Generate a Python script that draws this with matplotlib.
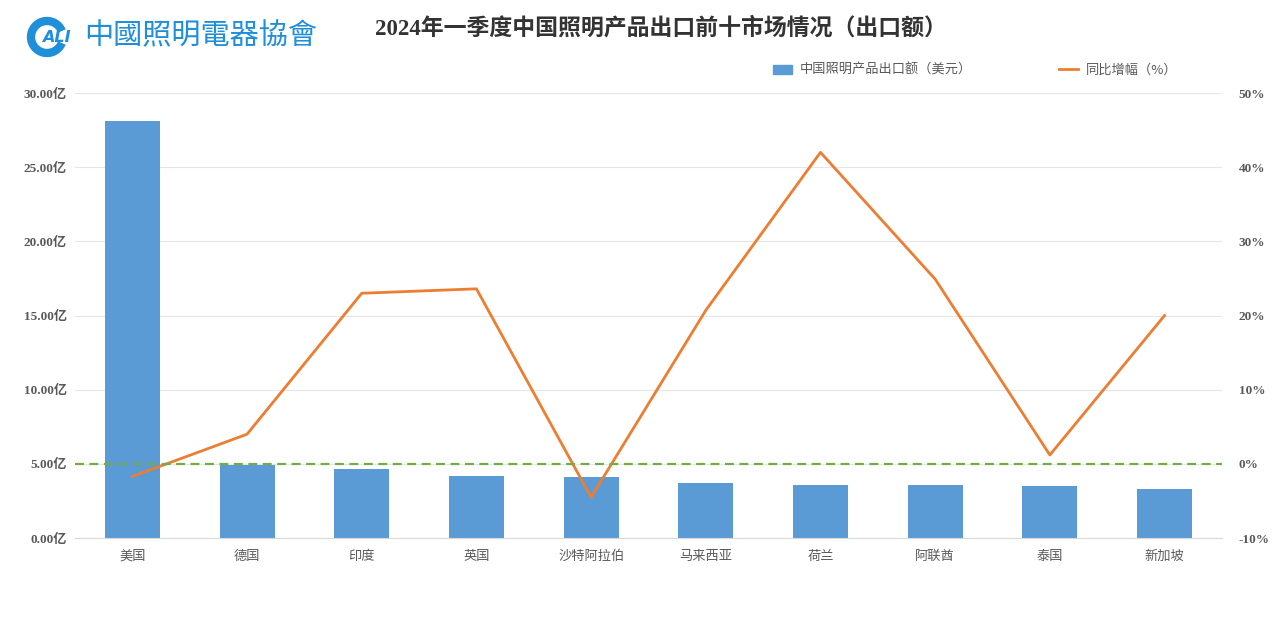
import matplotlib
matplotlib.use("Agg")
import matplotlib.pyplot as plt
from matplotlib.patches import Arc, Patch
from matplotlib.lines import Line2D

# data
countries = ["美国", "德国", "印度", "英国", "沙特阿拉伯", "马来西亚", "荷兰", "阿联酋", "泰国", "新加坡"]
export_value = [28.1, 4.95, 4.65, 4.18, 4.11, 3.73, 3.59, 3.55, 3.53, 3.30]   # 亿美元
yoy_growth = [-1.7, 4.0, 23.0, 23.6, -4.5, 20.7, 42.0, 24.9, 1.2, 20.0]     # %
left_ticks = [0, 5, 10, 15, 20, 25, 30]
right_ticks = [-10, 0, 10, 20, 30, 40, 50]

BAR_COLOR = "#5B9BD5"
LINE_COLOR = "#ED7D31"
ZERO_COLOR = "#70AD47"
TEXT_COLOR = "#595959"
SERIF = ["Liberation Serif", "Noto Sans CJK SC", "DejaVu Sans"]
CJK = ["Noto Sans CJK SC", "DejaVu Sans"]

plt.rcParams["font.family"] = CJK

W, H = 1280, 618
fig = plt.figure(figsize=(W / 100, H / 100), dpi=100)
ax = fig.add_axes([0.0586, 0.1294, 0.896, 0.7201])
ax2 = ax.twinx()

x = list(range(len(countries)))
ax.bar(x, export_value, width=0.48, color=BAR_COLOR, zorder=2)
ax.set_xlim(-0.5, len(countries) - 0.5)
ax.set_ylim(0, 30)
ax.set_yticks(left_ticks)
ax.set_yticklabels([f"{v:.2f}亿" for v in left_ticks], family=SERIF,
                   fontsize=9.5, fontweight="bold", color=TEXT_COLOR)
ax.set_xticks(x)
ax.set_xticklabels([])
# category labels on a common baseline
for i, name in zip(x, countries):
    ax.annotate(name, (i, 0), xytext=(0, -15.5), textcoords="offset points",
                ha="center", va="baseline", fontsize=9.5, color=TEXT_COLOR,
                family=CJK, annotation_clip=False)
ax.grid(axis="y", color="#E6E6E6", linewidth=0.8, zorder=0)
ax.tick_params(length=0, pad=6)
for s in ["top", "right", "left"]:
    ax.spines[s].set_visible(False)
ax.spines["bottom"].set_color("#D9D9D9")

ax2.plot(x, yoy_growth, color=LINE_COLOR, linewidth=2, zorder=3)
ax2.axhline(0, color=ZERO_COLOR, linewidth=1.6, linestyle=(0, (4, 2.5)), zorder=3)
ax2.set_ylim(-10, 50)
ax2.set_yticks(right_ticks)
ax2.set_yticklabels([f"{v}%" for v in right_ticks], family=SERIF,
                    fontsize=9.5, fontweight="bold", color=TEXT_COLOR)
ax2.tick_params(length=0, pad=12)
for s in ax2.spines.values():
    s.set_visible(False)

# title
fig.text(0.516, 0.955, "2024年一季度中国照明产品出口前十市场情况（出口额）",
         ha="center", va="center", fontsize=16.5, fontweight="bold",
         family=SERIF, color="#333333")

# legend
handles = [Patch(color=BAR_COLOR), Line2D([], [], color=LINE_COLOR, linewidth=2)]
labels = ["中国照明产品出口额（美元）", "同比增幅（%）"]
fig.legend(handles, labels, loc="center", bbox_to_anchor=(0.762, 0.886), ncol=2,
           frameon=False, fontsize=9.5, columnspacing=6.6, handlelength=1.4,
           handletextpad=0.6, labelcolor=TEXT_COLOR)

# logo
logo_blue = "#1E8FD8"
ring = Arc((47 / W, 1 - 37 / H), 32 / W, 32 / H, theta1=40, theta2=320,
           transform=fig.transFigure, color=logo_blue, linewidth=6)
fig.patches.append(ring)
fig.text(56 / W, 1 - 38 / H, "ALI", ha="center", va="center", fontsize=11.5,
         fontweight="bold", fontstyle="italic", color=logo_blue, family=["DejaVu Sans"])
fig.text(84 / W, 1 - 36 / H, "中國照明電器協會", ha="left", va="center", fontsize=21,
         color=logo_blue, family=CJK)

fig.savefig("out.png", dpi=100, facecolor="white")
